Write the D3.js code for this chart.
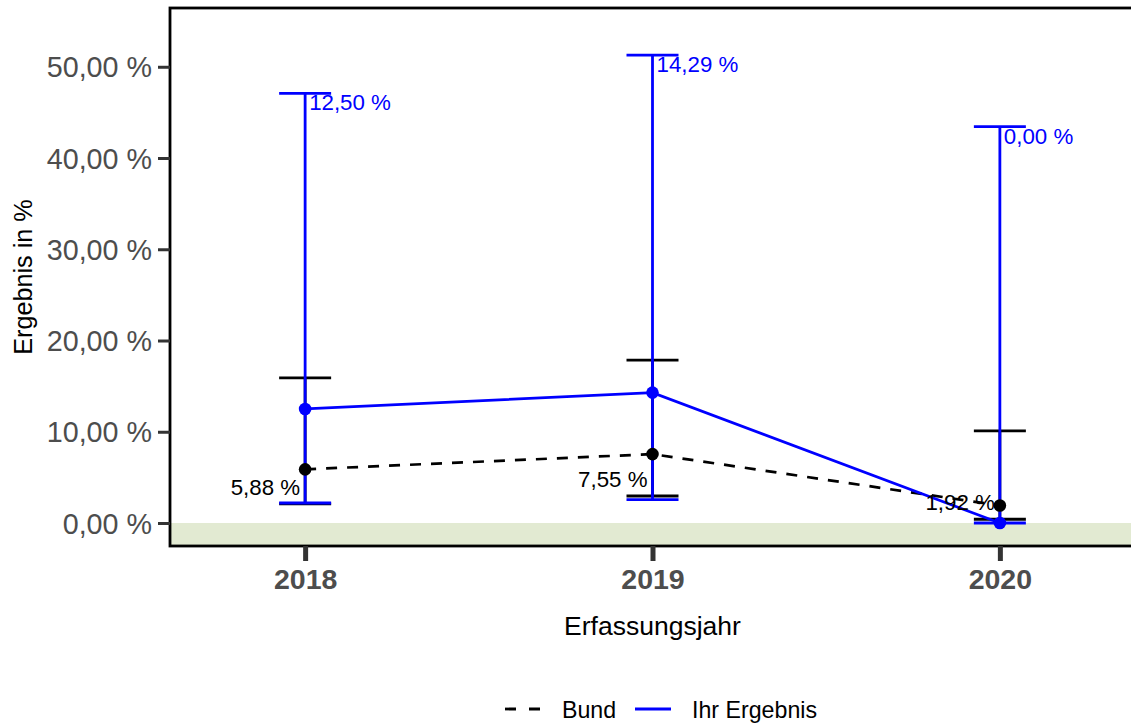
<!DOCTYPE html>
<html>
<head>
<meta charset="utf-8">
<script src="https://cdn.jsdelivr.net/npm/d3@7"></script>
<style>
    body { margin: 0; background: #ffffff; }
    svg { display: block; font-family: "Liberation Sans", Arial, sans-serif; }
</style>
</head>
<body>
<div id="chart-area"></div>
<script>
// Data
var years = ["2018", "2019", "2020"];
var bundValues = [5.88, 7.55, 1.92];
var bundLower = [2.1, 2.96, 0.41];
var bundUpper = [15.9, 17.84, 10.09];
var ihrValues = [12.50, 14.29, 0.00];
var ihrLower = [2.19, 2.56, 0.00];
var ihrUpper = [47.08, 51.28, 43.44];
var yTicks = [0, 10, 20, 30, 40, 50];
var legendLabels = ["Bund", "Ihr Ergebnis"];

var bund = years.map(function(y, i){
    return { year: y, value: bundValues[i], lower: bundLower[i], upper: bundUpper[i] };
});
var ihr = years.map(function(y, i){
    return { year: y, value: ihrValues[i], lower: ihrLower[i], upper: ihrUpper[i] };
});

var fmt = function(v){ return d3.format(".2f")(v).replace(".", ",") + " %"; };

var width = 1131, height = 724;
var margin = { left: 170, right: -4, top: 8, bottom: 178 };
var innerW = width - margin.left - margin.right;
var innerH = height - margin.top - margin.bottom;

var svg = d3.select("#chart-area")
    .append("svg")
    .attr("width", width)
    .attr("height", height);

var g = svg.append("g")
    .attr("transform", "translate(" + margin.left + "," + margin.top + ")");

// Scales
var x = d3.scalePoint().domain(years).range([0, innerW]).padding(0.389);
var y = d3.scaleLinear().domain([-2.52, 56.44]).range([innerH, 0]);

// Green band below zero
g.append("rect")
    .attr("x", 0)
    .attr("y", y(0))
    .attr("width", innerW)
    .attr("height", innerH - y(0))
    .attr("fill", "#e2ead2");

// Error bars
function errorBars(data, colour, cls){
    var eb = g.append("g").attr("class", cls)
        .attr("stroke", colour)
        .attr("stroke-width", 2.8);
    eb.selectAll(".v").data(data).enter().append("line")
        .attr("x1", function(d){ return x(d.year); })
        .attr("x2", function(d){ return x(d.year); })
        .attr("y1", function(d){ return y(d.lower); })
        .attr("y2", function(d){ return y(d.upper); });
    ["lower", "upper"].forEach(function(k){
        eb.selectAll(".c" + k).data(data).enter().append("line")
            .attr("x1", function(d){ return x(d.year) - 26; })
            .attr("x2", function(d){ return x(d.year) + 26; })
            .attr("y1", function(d){ return y(d[k]); })
            .attr("y2", function(d){ return y(d[k]); });
    });
}
errorBars(bund, "#000000", "bund-eb");
errorBars(ihr, "#0000ff", "ihr-eb");

// Lines
var line = d3.line()
    .x(function(d){ return x(d.year); })
    .y(function(d){ return y(d.value); });

g.append("path")
    .attr("d", line(bund))
    .attr("fill", "none")
    .attr("stroke", "#000000")
    .attr("stroke-width", 2.7)
    .attr("stroke-dasharray", "11,10");

g.append("path")
    .attr("d", line(ihr))
    .attr("fill", "none")
    .attr("stroke", "#0000ff")
    .attr("stroke-width", 2.7);

// Points
g.selectAll(".bund-pt").data(bund).enter().append("circle")
    .attr("cx", function(d){ return x(d.year); })
    .attr("cy", function(d){ return y(d.value); })
    .attr("r", 6.3)
    .attr("fill", "#000000");
g.selectAll(".ihr-pt").data(ihr).enter().append("circle")
    .attr("cx", function(d){ return x(d.year); })
    .attr("cy", function(d){ return y(d.value); })
    .attr("r", 6.3)
    .attr("fill", "#0000ff");

// Value labels
g.selectAll(".bund-lab").data(bund).enter().append("text")
    .attr("x", function(d){ return x(d.year) - 5; })
    .attr("y", function(d){ return y(d.lower) - 9; })
    .attr("text-anchor", "end")
    .attr("font-size", "22.3px")
    .attr("fill", "#000000")
    .text(function(d){ return fmt(d.value); });
g.selectAll(".ihr-lab").data(ihr).enter().append("text")
    .attr("x", function(d){ return x(d.year) + 4; })
    .attr("y", function(d){ return y(d.upper) + 17; })
    .attr("text-anchor", "start")
    .attr("font-size", "22.3px")
    .attr("fill", "#0000ff")
    .text(function(d){ return fmt(d.value); });

// Panel border
g.append("rect")
    .attr("x", 0).attr("y", 0)
    .attr("width", innerW).attr("height", innerH)
    .attr("fill", "none")
    .attr("stroke", "#000000")
    .attr("stroke-width", 2.8);

// Y-axis
var yAxis = g.append("g")
    .call(d3.axisLeft(y).tickValues(yTicks).tickSize(12).tickPadding(6)
        .tickFormat(function(d){ return fmt(d); }));
yAxis.select(".domain").remove();
yAxis.selectAll("line").attr("stroke", "#333333").attr("stroke-width", 3);
yAxis.selectAll("text")
    .attr("font-size", "28.7px")
    .attr("fill", "#4d4d4d")
    .attr("dy", "0.35em")
    .style("font-family", "'Liberation Sans', Arial, sans-serif");

// X-axis
var xAxis = g.append("g")
    .attr("transform", "translate(0," + innerH + ")")
    .call(d3.axisBottom(x).tickSize(15).tickPadding(8));
xAxis.select(".domain").remove();
xAxis.selectAll("line").attr("stroke", "#333333").attr("stroke-width", 5);
xAxis.selectAll("text")
    .attr("font-size", "28.5px")
    .attr("font-weight", "bold")
    .attr("fill", "#4d4d4d")
    .attr("dy", "0.71em")
    .style("font-family", "'Liberation Sans', Arial, sans-serif");

// Axis titles
svg.append("text")
    .attr("x", margin.left + innerW / 2)
    .attr("y", 635)
    .attr("text-anchor", "middle")
    .attr("font-size", "26.5px")
    .text("Erfassungsjahr");
svg.append("text")
    .attr("transform", "translate(32," + (margin.top + innerH / 2) + ") rotate(-90)")
    .attr("text-anchor", "middle")
    .attr("font-size", "25.2px")
    .text("Ergebnis in %");

// Legend
var legend = svg.append("g").attr("transform", "translate(0,709)");
var legendX = [505, 635];
var legendKeys = [
    { dash: "11,13", colour: "#000000" },
    { dash: null, colour: "#0000ff" }
];
legendLabels.forEach(function(lab, i){
    legend.append("line")
        .attr("x1", legendX[i]).attr("x2", legendX[i] + 36)
        .attr("y1", 0).attr("y2", 0)
        .attr("stroke", legendKeys[i].colour)
        .attr("stroke-width", 2.8)
        .attr("stroke-dasharray", legendKeys[i].dash);
    legend.append("text")
        .attr("x", legendX[i] + 57)
        .attr("y", 9)
        .attr("font-size", "23.2px")
        .text(lab);
});
</script>
</body>
</html>
